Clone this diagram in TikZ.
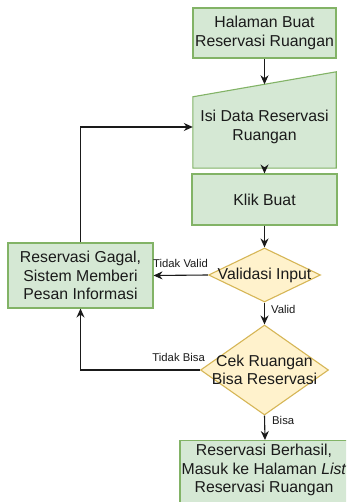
\documentclass[tikz,border=0pt]{standalone}
\usepackage{fontspec}
\setmainfont{Liberation Sans}
\usetikzlibrary{shapes.geometric,arrows.meta,calc}
\definecolor{procfill}{HTML}{D5E8D4}
\definecolor{procline}{HTML}{82B366}
\definecolor{decfill}{HTML}{FFF2CC}
\definecolor{decline}{HTML}{D6B656}
\definecolor{ink}{HTML}{1A1A1A}
\tikzset{
  process/.style={draw=procline, fill=procfill, line width=1.1pt, inner sep=0pt},
  decision/.style={diamond, draw=decline, fill=decfill, line width=1.1pt, inner sep=0pt},
  body/.style={font=\fontsize{15.8}{18.5}\selectfont, text=ink, align=center, inner sep=0pt},
  edgelabel/.style={font=\fontsize{11.3}{13}\selectfont, text=ink, inner sep=0pt},
  flow/.style={draw=ink, line width=1.1pt, -{Stealth[length=9pt,width=8pt]}},
  wire/.style={draw=ink, line width=1.1pt}
}
\begin{document}
\begin{tikzpicture}[x=1pt,y=-1pt]
\useasboundingbox (0,0) rectangle (346,502);
\clip (0,0) rectangle (346,502);
\fill[white] (0,0) rectangle (346,502);

% start page
\node[process, minimum width=143pt, minimum height=50pt] (start) at (264.5,33) {};
\node[body] (startt) at (start) {Halaman Buat\\Reservasi Ruangan};

% manual input: form filling
\node[inner sep=0pt, minimum width=143pt, minimum height=96pt] (isi) at (264.5,120) {};
\draw[process] (isi.south west) -- (isi.south east) -- (isi.north east)
  -- ($(isi.north west)+(0,25)$) -- cycle;
\coordinate (isitop) at ($(isi.north)+(0,12.5)$);
\coordinate (isiin) at (isi.west |- 0,127);
\node[body] (isit) at (264.5,127) {Isi Data Reservasi\\Ruangan};

% submit
\node[process, minimum width=145pt, minimum height=51pt] (klik) at (264.5,199.5) {};
\node[body] (klikt) at (klik) {Klik Buat};

% validation
\node[decision, minimum width=112pt, minimum height=54pt] (val) at (264.5,275) {};
\node[body] (valt) at (val) {Validasi Input};

% failure message
\node[process, minimum width=145pt, minimum height=65pt] (gagal) at (80.5,275.5) {};
\node[body] (gagalt) at (gagal) {Reservasi Gagal,\\Sistem Memberi\\Pesan Informasi};

% room availability
\node[decision, minimum width=128pt, minimum height=90pt] (cek) at (264.5,370) {};
\node[body] (cekt) at (cek) {Cek Ruangan\\Bisa Reservasi};

% success
\node[process, anchor=north, minimum width=170pt, minimum height=80pt] (hasil) at (265,440) {};
\node[body] (hasilt) at (264,470) {Reservasi Berhasil,\\Masuk ke Halaman \textit{List}\\Reservasi Ruangan};

\coordinate (bend1) at (gagal.north |- isiin);
\coordinate (bend2) at (gagal.south |- cek.west);

% connectors
\draw[flow] (start.south) -- (isitop);
\draw[flow] (isi.south) -- (klik.north);
\draw[flow] (klik.south) -- (val.north);
\draw[flow] (val.west) -- (gagal.east);
\draw[flow] (val.south) -- (cek.north);
\draw[flow] (cek.west) -- (bend2) -- (gagal.south);
\draw[flow] (cek.south) -- (hasil.north);
\draw[flow] (gagal.north) -- (bend1) -- (isiin);

% connector labels
\node[edgelabel, anchor=east] (ltv) at (208,263) {Tidak Valid};
\node[edgelabel, anchor=west] (lv) at (271,309) {Valid};
\node[edgelabel, anchor=east] (ltb) at (205,357) {Tidak Bisa};
\node[edgelabel, anchor=west] (lb) at (272,420) {Bisa};
\end{tikzpicture}
\end{document}
